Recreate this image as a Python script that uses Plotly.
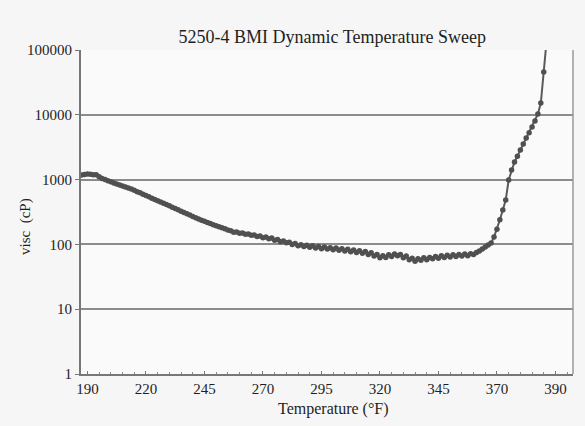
import plotly.graph_objects as go

# Viscosity readings (cP), one per sample, in sweep order
visc = [
    1180, 1200, 1220, 1210, 1190, 1190, 1110, 1040, 1000, 960,
    925, 890, 858, 825, 797, 770, 740, 715, 685, 650,
    625, 595, 568, 543, 517, 494, 472, 451, 430, 412,
    394, 375, 357, 342, 326, 311, 297, 283, 270, 258,
    246, 236, 227, 218, 210, 201, 194, 187, 180, 174,
    167, 163, 154, 156, 148, 150, 143, 145, 138, 140,
    132, 135, 127, 130, 122, 125, 116, 119, 110, 113,
    106, 108, 100, 103, 95, 99, 93, 97, 90, 95,
    88, 93, 86, 91, 85, 89, 83, 88, 81, 86,
    79, 84, 77, 82, 75, 80, 73, 78, 70, 74,
    66, 70, 62, 67, 63, 69, 65, 71, 67, 70,
    62, 66, 58, 61, 55, 60, 57, 62, 58, 63,
    60, 65, 61, 67, 63, 68, 64, 69, 65, 70,
    66, 71, 67, 72, 70, 75, 79, 85, 91, 98,
    105, 130, 172, 240, 340, 484, 986, 1407, 1870, 2300,
    2860, 3550, 4400, 5300, 6500, 8000, 10300, 15200, 45800, 143000,
]
sample = list(range(len(visc)))

# Temperature labels shown every 20 samples
temp_labels = ["190", "220", "245", "270", "295", "320", "345", "370", "390"]
label_samples = [2 + 20 * i for i in range(len(temp_labels))]

y_ticks = [1, 10, 100, 1000, 10000, 100000]

SERIF = "Liberation Serif, Times New Roman, serif"
TXT = "#1e1e1e"

fig = go.Figure()
fig.add_trace(go.Scatter(
    x=sample, y=visc, mode="lines+markers",
    line=dict(color="#5a5a5a", width=2),
    marker=dict(color="#505050", size=5.5, symbol="circle"),
    showlegend=False,
))

fig.update_layout(
    width=585, height=426,
    margin=dict(l=81, r=12, t=50, b=52),
    paper_bgcolor="#f6f6f6",
    plot_bgcolor="#fafafa",
    font=dict(family=SERIF, size=15, color=TXT),
    title=dict(text="5250-4 BMI Dynamic Temperature Sweep",
               x=0.568, xanchor="center", y=1 - 37 / 426, yanchor="middle",
               font=dict(family=SERIF, size=18, color=TXT)),
    xaxis=dict(
        range=[-0.2, 168.0],
        tickmode="array", tickvals=label_samples, ticktext=temp_labels,
        ticks="inside", ticklen=3, tickcolor="#777777", tickwidth=1,
        minor=dict(tickmode="linear", tick0=2, dtick=4, ticks="inside",
                   ticklen=2, tickcolor="#888888"),
        showgrid=False, zeroline=False,
        showline=True, linecolor="#777777", linewidth=2,
        tickfont=dict(family=SERIF, size=15, color=TXT),
    ),
    yaxis=dict(
        type="log", range=[0, 5],
        tickmode="array", tickvals=y_ticks, ticktext=[str(v) for v in y_ticks],
        ticks="outside", ticklen=4, tickcolor="#777777",
        showgrid=True, gridcolor="#8c8c8c", gridwidth=2,
        zeroline=False,
        showline=True, linecolor="#777777", linewidth=2,
        tickfont=dict(family=SERIF, size=15, color=TXT),
    ),
    shapes=[dict(type="line", xref="paper", yref="paper", x0=1, x1=1, y0=0, y1=1,
                 line=dict(color="#9a9a9a", width=1.5))],
    annotations=[
        dict(text="visc\u00a0 (cP)", xref="paper", yref="paper",
             x=(25 - 81) / 492, y=(374 - 227) / 324, textangle=-90,
             xanchor="center", yanchor="middle", showarrow=False,
             font=dict(family=SERIF, size=15, color=TXT)),
        dict(text="Temperature (°F)", xref="paper", yref="paper",
             x=(333 - 81) / 492, y=(374 - 409) / 324,
             xanchor="center", yanchor="middle", showarrow=False,
             font=dict(family=SERIF, size=16, color=TXT)),
    ],
)

fig.write_html("out.html")
